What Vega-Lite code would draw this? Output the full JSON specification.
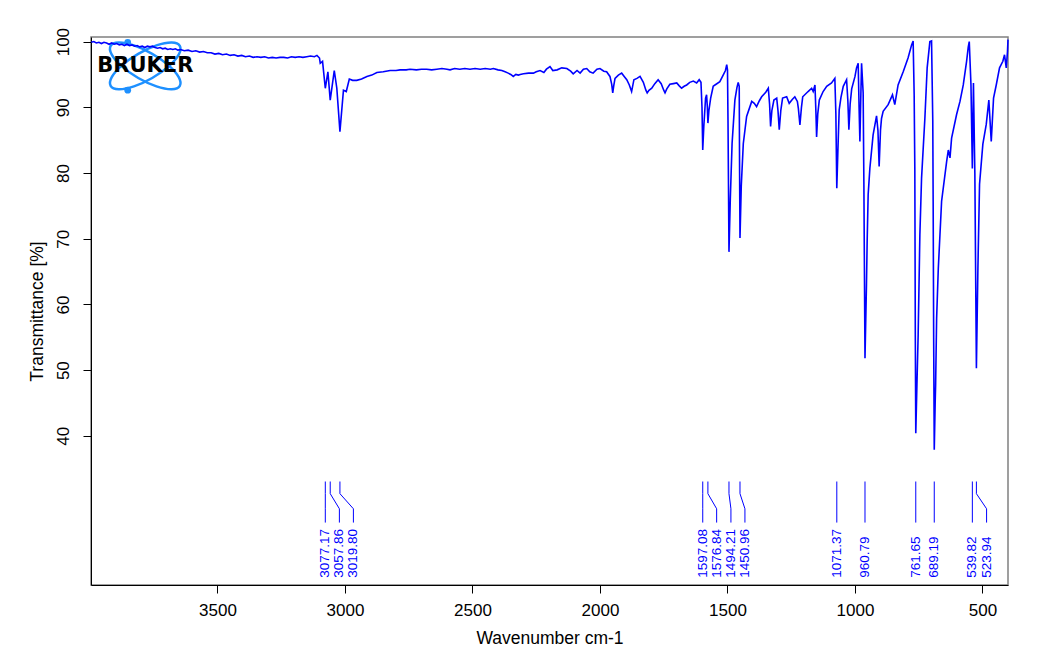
{
  "$schema": "https://vega.github.io/schema/vega-lite/v6.json",
  "width": 917,
  "height": 548,
  "autosize": {"type": "none"},
  "padding": {"left": 91, "top": 37, "right": 38, "bottom": 77},
  "background": "white",
  "config": {
    "view": {"stroke": "#808080", "strokeWidth": 1.5},
    "font": "Liberation Sans"
  },
  "datasets": {
    "spec": [
      {"w":3995,"t":99.9},{"w":3985,"t":100.0},{"w":3975,"t":99.8},{"w":3965,"t":99.9},{"w":3955,"t":99.7},{"w":3945,"t":99.9},{"w":3935,"t":99.8},{"w":3925,"t":99.6},{"w":3915,"t":99.8},{"w":3905,"t":99.6},{"w":3895,"t":99.7},{"w":3885,"t":99.5},{"w":3875,"t":99.6},{"w":3865,"t":99.4},{"w":3855,"t":99.6},{"w":3845,"t":99.4},{"w":3835,"t":99.5},{"w":3825,"t":99.3},{"w":3815,"t":99.4},{"w":3805,"t":99.2},{"w":3795,"t":99.3},{"w":3785,"t":99.1},{"w":3775,"t":99.3},{"w":3765,"t":99.2},{"w":3755,"t":99.3},{"w":3745,"t":99.1},{"w":3735,"t":99.0},{"w":3725,"t":99.1},{"w":3715,"t":98.9},{"w":3705,"t":99.0},{"w":3695,"t":98.8},{"w":3685,"t":98.9},{"w":3675,"t":98.8},{"w":3665,"t":98.9},{"w":3655,"t":98.7},{"w":3645,"t":98.8},{"w":3630,"t":98.6},{"w":3615,"t":98.7},{"w":3600,"t":98.5},{"w":3585,"t":98.6},{"w":3570,"t":98.4},{"w":3555,"t":98.5},{"w":3540,"t":98.3},{"w":3525,"t":98.3},{"w":3510,"t":98.1},{"w":3495,"t":98.2},{"w":3480,"t":98.0},{"w":3465,"t":98.1},{"w":3450,"t":97.9},{"w":3435,"t":98.0},{"w":3420,"t":97.8},{"w":3405,"t":97.9},{"w":3390,"t":97.7},{"w":3375,"t":97.8},{"w":3360,"t":97.6},{"w":3345,"t":97.7},{"w":3330,"t":97.6},{"w":3315,"t":97.7},{"w":3300,"t":97.5},{"w":3285,"t":97.6},{"w":3270,"t":97.5},{"w":3255,"t":97.6},{"w":3240,"t":97.6},{"w":3225,"t":97.5},{"w":3210,"t":97.7},{"w":3195,"t":97.6},{"w":3180,"t":97.7},{"w":3165,"t":97.6},{"w":3150,"t":97.7},{"w":3135,"t":97.8},{"w":3120,"t":97.7},{"w":3110,"t":97.9},{"w":3100,"t":97.5},{"w":3097,"t":96.7},{"w":3088,"t":97.0},{"w":3077.2,"t":92.9},{"w":3067,"t":95.4},{"w":3057.9,"t":91.1},{"w":3042,"t":95.6},{"w":3032,"t":92.9},{"w":3019.8,"t":86.3},{"w":3006,"t":92.6},{"w":2995,"t":92.4},{"w":2983,"t":94.3},{"w":2970,"t":94.1},{"w":2954,"t":94.1},{"w":2935,"t":94.3},{"w":2914,"t":94.7},{"w":2895,"t":94.9},{"w":2875,"t":95.3},{"w":2850,"t":95.4},{"w":2823,"t":95.6},{"w":2800,"t":95.6},{"w":2784,"t":95.7},{"w":2760,"t":95.7},{"w":2745,"t":95.8},{"w":2720,"t":95.7},{"w":2700,"t":95.8},{"w":2680,"t":95.8},{"w":2660,"t":95.7},{"w":2640,"t":95.8},{"w":2620,"t":95.9},{"w":2600,"t":95.8},{"w":2588,"t":95.7},{"w":2570,"t":95.9},{"w":2550,"t":95.8},{"w":2530,"t":95.9},{"w":2510,"t":95.8},{"w":2490,"t":95.9},{"w":2470,"t":95.8},{"w":2450,"t":95.9},{"w":2430,"t":95.8},{"w":2418,"t":95.9},{"w":2400,"t":95.7},{"w":2385,"t":95.6},{"w":2372,"t":95.4},{"w":2360,"t":95.2},{"w":2350,"t":95.0},{"w":2340,"t":94.7},{"w":2330,"t":95.0},{"w":2320,"t":94.9},{"w":2313,"t":95.0},{"w":2300,"t":95.1},{"w":2280,"t":95.2},{"w":2261,"t":95.2},{"w":2250,"t":95.4},{"w":2235,"t":95.6},{"w":2220,"t":95.3},{"w":2210,"t":95.8},{"w":2196,"t":96.2},{"w":2185,"t":95.6},{"w":2168,"t":95.7},{"w":2150,"t":96.0},{"w":2130,"t":95.9},{"w":2115,"t":95.5},{"w":2105,"t":95.1},{"w":2090,"t":95.6},{"w":2078,"t":95.2},{"w":2065,"t":95.8},{"w":2052,"t":95.9},{"w":2040,"t":95.4},{"w":2027,"t":95.2},{"w":2012,"t":95.8},{"w":2000,"t":95.9},{"w":1985,"t":95.5},{"w":1974,"t":95.4},{"w":1961,"t":94.7},{"w":1954,"t":93.5},{"w":1950,"t":92.2},{"w":1946,"t":93.3},{"w":1941,"t":94.4},{"w":1928,"t":94.9},{"w":1915,"t":95.2},{"w":1905,"t":94.7},{"w":1895,"t":94.2},{"w":1885,"t":93.4},{"w":1876,"t":92.4},{"w":1867,"t":94.2},{"w":1855,"t":94.4},{"w":1843,"t":94.7},{"w":1830,"t":93.8},{"w":1820,"t":92.6},{"w":1815,"t":92.2},{"w":1808,"t":92.6},{"w":1797,"t":92.9},{"w":1785,"t":93.6},{"w":1772,"t":94.2},{"w":1760,"t":93.6},{"w":1750,"t":92.6},{"w":1745,"t":92.2},{"w":1738,"t":92.8},{"w":1726,"t":93.5},{"w":1712,"t":93.6},{"w":1699,"t":93.7},{"w":1690,"t":93.3},{"w":1680,"t":92.9},{"w":1670,"t":93.2},{"w":1660,"t":93.4},{"w":1648,"t":93.8},{"w":1634,"t":94.0},{"w":1621,"t":93.7},{"w":1611,"t":94.2},{"w":1604,"t":93.8},{"w":1600,"t":90.0},{"w":1597.1,"t":83.5},{"w":1593,"t":87.0},{"w":1586,"t":91.4},{"w":1582,"t":91.9},{"w":1579,"t":90.0},{"w":1576.8,"t":87.6},{"w":1573,"t":89.5},{"w":1566,"t":91.4},{"w":1556,"t":93.2},{"w":1549,"t":93.4},{"w":1530,"t":93.9},{"w":1517,"t":94.9},{"w":1508,"t":95.6},{"w":1503,"t":96.5},{"w":1500,"t":95.7},{"w":1498,"t":88.0},{"w":1494.2,"t":68.0},{"w":1489,"t":76.0},{"w":1482,"t":84.5},{"w":1471,"t":91.1},{"w":1463,"t":93.0},{"w":1458,"t":93.8},{"w":1454,"t":93.2},{"w":1452.5,"t":80.0},{"w":1451,"t":70.1},{"w":1446,"t":78.0},{"w":1438,"t":84.5},{"w":1425,"t":88.6},{"w":1405,"t":90.9},{"w":1395,"t":90.6},{"w":1386,"t":90.1},{"w":1375,"t":91.0},{"w":1366,"t":91.6},{"w":1350,"t":92.3},{"w":1340,"t":92.9},{"w":1335,"t":90.5},{"w":1331,"t":87.1},{"w":1326,"t":89.5},{"w":1318,"t":91.1},{"w":1307,"t":91.4},{"w":1302,"t":89.5},{"w":1297,"t":86.6},{"w":1291,"t":89.5},{"w":1284,"t":91.4},{"w":1268,"t":91.6},{"w":1258,"t":90.6},{"w":1246,"t":91.2},{"w":1236,"t":91.6},{"w":1226,"t":90.9},{"w":1222,"t":89.8},{"w":1216,"t":87.3},{"w":1210,"t":90.0},{"w":1205,"t":91.6},{"w":1184,"t":92.4},{"w":1170,"t":92.9},{"w":1164,"t":92.4},{"w":1157,"t":93.4},{"w":1153,"t":89.0},{"w":1150.6,"t":85.5},{"w":1146,"t":89.0},{"w":1140,"t":91.1},{"w":1125,"t":92.4},{"w":1111,"t":93.2},{"w":1092,"t":93.7},{"w":1079,"t":94.4},{"w":1075,"t":89.0},{"w":1071.4,"t":77.7},{"w":1067,"t":83.5},{"w":1062,"t":89.6},{"w":1055,"t":91.5},{"w":1046,"t":93.2},{"w":1033,"t":94.2},{"w":1028,"t":91.0},{"w":1024,"t":86.6},{"w":1019,"t":90.5},{"w":1013,"t":92.8},{"w":1000,"t":94.7},{"w":994,"t":96.0},{"w":987.5,"t":96.7},{"w":984,"t":90.0},{"w":980.8,"t":84.8},{"w":977,"t":92.0},{"w":974.2,"t":96.7},{"w":968,"t":92.2},{"w":965.2,"t":78.7},{"w":962.5,"t":62.0},{"w":960.8,"t":51.8},{"w":955,"t":63.0},{"w":952.3,"t":69.6},{"w":948.4,"t":76.7},{"w":941.7,"t":80.7},{"w":929,"t":85.8},{"w":915.5,"t":88.7},{"w":910,"t":86.5},{"w":905.3,"t":81.0},{"w":900,"t":86.5},{"w":896,"t":88.3},{"w":889.6,"t":89.4},{"w":870,"t":90.4},{"w":853,"t":91.9},{"w":844,"t":90.4},{"w":831,"t":93.4},{"w":811,"t":95.4},{"w":792,"t":97.5},{"w":778,"t":99.5},{"w":772,"t":100.1},{"w":768,"t":92.0},{"w":765.4,"t":80.7},{"w":763.5,"t":55.4},{"w":761.65,"t":40.4},{"w":757,"t":48.0},{"w":752.3,"t":55.4},{"w":745.6,"t":70.6},{"w":739,"t":79.2},{"w":726,"t":88.3},{"w":717,"t":96.0},{"w":706.4,"t":100.0},{"w":699.8,"t":100.1},{"w":695,"t":88.0},{"w":693.5,"t":75.7},{"w":691.5,"t":55.0},{"w":689.19,"t":37.9},{"w":685.5,"t":45.2},{"w":683.8,"t":47.8},{"w":679.9,"t":57.9},{"w":673.3,"t":65.5},{"w":660.4,"t":75.7},{"w":640.8,"t":81.7},{"w":634.1,"t":83.5},{"w":627.5,"t":82.3},{"w":621.2,"t":85.3},{"w":601.6,"t":88.9},{"w":588.3,"t":90.9},{"w":575.4,"t":93.4},{"w":562.4,"t":97.0},{"w":555.8,"t":99.2},{"w":551.9,"t":100.0},{"w":545.2,"t":93.4},{"w":539.82,"t":80.7},{"w":535.5,"t":93.7},{"w":530,"t":80.0},{"w":523.94,"t":50.3},{"w":518,"t":65.5},{"w":511.6,"t":78.3},{"w":498.6,"t":84.4},{"w":485.3,"t":87.4},{"w":475.1,"t":91.1},{"w":465.7,"t":84.8},{"w":456.7,"t":91.4},{"w":446.1,"t":93.4},{"w":433.2,"t":96.0},{"w":420.2,"t":97.0},{"w":413.6,"t":98.0},{"w":406.9,"t":96.0},{"w":402,"t":98.5},{"w":400,"t":100.3}
    ],
    "ann": [
      {"p":"3077.17","i":0,"w":3077.17,"t":33.05},{"p":"3077.17","i":1,"w":3077.17,"t":31.2},{"p":"3077.17","i":2,"w":3077.17,"t":28.9},{"p":"3077.17","i":3,"w":3077.17,"t":26.8},
      {"p":"3057.86","i":0,"w":3057.86,"t":33.05},{"p":"3057.86","i":1,"w":3057.86,"t":31.2},{"p":"3057.86","i":2,"w":3022,"t":28.9},{"p":"3057.86","i":3,"w":3022,"t":26.8},
      {"p":"3019.80","i":0,"w":3019.8,"t":33.05},{"p":"3019.80","i":1,"w":3019.8,"t":31.2},{"p":"3019.80","i":2,"w":2967,"t":28.9},{"p":"3019.80","i":3,"w":2967,"t":26.8},
      {"p":"1597.08","i":0,"w":1597.08,"t":33.05},{"p":"1597.08","i":1,"w":1597.08,"t":31.2},{"p":"1597.08","i":2,"w":1597.08,"t":28.9},{"p":"1597.08","i":3,"w":1597.08,"t":26.8},
      {"p":"1576.84","i":0,"w":1576.84,"t":33.05},{"p":"1576.84","i":1,"w":1576.84,"t":31.2},{"p":"1576.84","i":2,"w":1542.5,"t":28.9},{"p":"1576.84","i":3,"w":1542.5,"t":26.8},
      {"p":"1494.21","i":0,"w":1494.21,"t":33.05},{"p":"1494.21","i":1,"w":1494.21,"t":31.2},{"p":"1494.21","i":2,"w":1486.5,"t":28.9},{"p":"1494.21","i":3,"w":1486.5,"t":26.8},
      {"p":"1450.96","i":0,"w":1450.96,"t":33.05},{"p":"1450.96","i":1,"w":1450.96,"t":31.2},{"p":"1450.96","i":2,"w":1431.6,"t":28.9},{"p":"1450.96","i":3,"w":1431.6,"t":26.8},
      {"p":"1071.37","i":0,"w":1071.37,"t":33.05},{"p":"1071.37","i":3,"w":1071.37,"t":26.8},
      {"p":"960.79","i":0,"w":960.79,"t":33.05},{"p":"960.79","i":3,"w":960.79,"t":26.8},
      {"p":"761.65","i":0,"w":761.65,"t":33.05},{"p":"761.65","i":3,"w":761.65,"t":26.8},
      {"p":"689.19","i":0,"w":689.19,"t":33.05},{"p":"689.19","i":3,"w":689.19,"t":26.8},
      {"p":"539.82","i":0,"w":539.82,"t":33.05},{"p":"539.82","i":3,"w":539.82,"t":26.8},
      {"p":"523.94","i":0,"w":523.94,"t":33.05},{"p":"523.94","i":1,"w":523.94,"t":31.2},{"p":"523.94","i":2,"w":484,"t":28.9},{"p":"523.94","i":3,"w":484,"t":26.8}
    ],
    "lab": [
      {"p":"3077.17","w":3077.17,"t":18.4},{"p":"3057.86","w":3022,"t":18.4},{"p":"3019.80","w":2967,"t":18.4},
      {"p":"1597.08","w":1597.08,"t":18.4},{"p":"1576.84","w":1542.5,"t":18.4},{"p":"1494.21","w":1486.5,"t":18.4},{"p":"1450.96","w":1431.6,"t":18.4},
      {"p":"1071.37","w":1071.37,"t":18.4},{"p":"960.79","w":960.79,"t":18.4},{"p":"761.65","w":761.65,"t":18.4},{"p":"689.19","w":689.19,"t":18.4},
      {"p":"539.82","w":539.82,"t":18.4},{"p":"523.94","w":484,"t":18.4}
    ],
    "logo": [
      {"e":"A","i":0,"w":3647.7,"t":93.26},{"e":"A","i":1,"w":3679.5,"t":92.74},{"e":"A","i":2,"w":3739.1,"t":93.18},{"e":"A","i":3,"w":3810.8,"t":94.46},{"e":"A","i":4,"w":3875.1,"t":96.23},{"e":"A","i":5,"w":3914.6,"t":98.02},{"e":"A","i":6,"w":3919.0,"t":99.35},{"e":"A","i":7,"w":3887.2,"t":99.86},{"e":"A","i":8,"w":3827.6,"t":99.42},{"e":"A","i":9,"w":3755.9,"t":98.14},{"e":"A","i":10,"w":3691.6,"t":96.38},{"e":"A","i":11,"w":3652.0,"t":94.58},
      {"e":"B","i":0,"w":3647.7,"t":99.35},{"e":"B","i":1,"w":3679.5,"t":99.86},{"e":"B","i":2,"w":3739.1,"t":99.42},{"e":"B","i":3,"w":3810.8,"t":98.14},{"e":"B","i":4,"w":3875.1,"t":96.38},{"e":"B","i":5,"w":3914.6,"t":94.58},{"e":"B","i":6,"w":3919.0,"t":93.26},{"e":"B","i":7,"w":3887.2,"t":92.74},{"e":"B","i":8,"w":3827.6,"t":93.18},{"e":"B","i":9,"w":3755.9,"t":94.46},{"e":"B","i":10,"w":3691.6,"t":96.23},{"e":"B","i":11,"w":3652.0,"t":98.02}
    ],
    "dots": [{"w":3852,"t":99.9},{"w":3852,"t":92.6}],
    "logotext": [{"name":"BRUKER","w":3783,"t":96.3}]
  },
  "encoding": {
    "x": {
      "field": "w", "type": "quantitative",
      "scale": {"domain": [400, 3996], "reverse": true, "nice": false, "zero": false},
      "axis": {
        "values": [500, 1000, 1500, 2000, 2500, 3000, 3500], "format": "d",
        "title": "Wavenumber cm-1", "grid": false,
        "domainColor": "black", "tickColor": "black", "labelColor": "black", "titleColor": "black",
        "tickSize": 8, "labelPadding": 9, "labelFontSize": 17, "titleFontSize": 17.5,
        "labelFont": "Liberation Sans", "titleFont": "Liberation Sans", "titleFontWeight": "normal",
        "titlePadding": 11, "labelFlush": false
      }
    },
    "y": {
      "field": "t", "type": "quantitative",
      "scale": {"domain": [17.3, 100.7], "nice": false, "zero": false},
      "axis": {
        "values": [40, 50, 60, 70, 80, 90, 100], "format": "d",
        "title": "Transmittance [%]", "grid": false,
        "domainColor": "black", "tickColor": "black", "labelColor": "black", "titleColor": "black",
        "tickSize": 8, "labelPadding": 11, "labelAngle": -90, "labelAlign": "center", "labelBaseline": "bottom",
        "labelFontSize": 17, "titleFontSize": 17.5,
        "labelFont": "Liberation Sans", "titleFont": "Liberation Sans", "titleFontWeight": "normal",
        "titlePadding": 8, "labelFlush": false
      }
    }
  },
  "layer": [
    {
      "data": {"name": "logo"},
      "mark": {"type": "line", "interpolate": "cardinal-closed", "stroke": "#1E90FF", "strokeWidth": 2.5},
      "encoding": {"detail": {"field": "e"}, "order": {"field": "i", "type": "quantitative"}}
    },
    {
      "data": {"name": "dots"},
      "mark": {"type": "point", "filled": true, "color": "#1E90FF", "size": 45, "opacity": 1}
    },
    {
      "data": {"name": "logotext"},
      "mark": {"type": "text", "font": "DejaVu Sans", "fontWeight": "bold", "fontSize": 21, "color": "black", "align": "center", "baseline": "middle"},
      "encoding": {"text": {"field": "name"}}
    },
    {
      "data": {"name": "spec"},
      "mark": {"type": "line", "stroke": "#0000FF", "strokeWidth": 1.6}
    },
    {
      "data": {"name": "ann"},
      "mark": {"type": "line", "stroke": "#0000FF", "strokeWidth": 1},
      "encoding": {"detail": {"field": "p"}, "order": {"field": "i", "type": "quantitative"}}
    },
    {
      "data": {"name": "lab"},
      "mark": {"type": "text", "angle": 270, "align": "left", "baseline": "middle", "fontSize": 13.5, "font": "Liberation Sans", "color": "#0000FF"},
      "encoding": {"text": {"field": "p"}}
    }
  ]
}
